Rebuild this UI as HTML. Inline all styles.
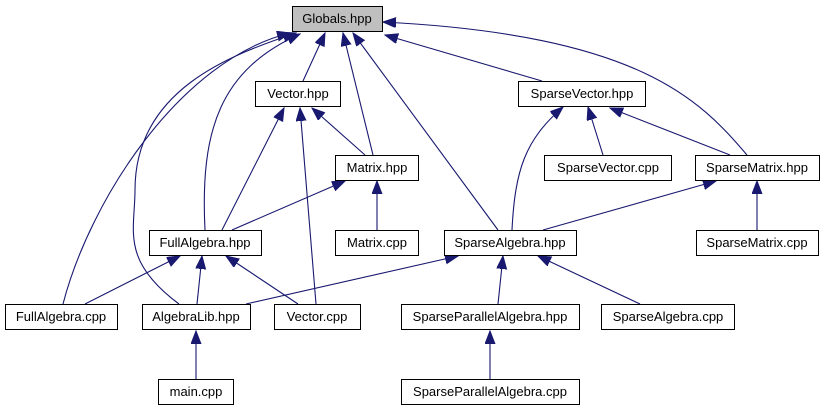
<!DOCTYPE html>
<html><head><meta charset="utf-8"><style>
html,body{margin:0;padding:0;background:#fff}
svg{display:block}
text{font-family:"Liberation Sans",sans-serif;font-size:13px;fill:#000}
</style></head><body>
<svg width="825" height="411" viewBox="0 0 825 411" xmlns="http://www.w3.org/2000/svg">
<defs>
<marker id="a" markerUnits="userSpaceOnUse" markerWidth="14" markerHeight="12" refX="13" refY="5" orient="auto">
<path d="M0,0 L13,5 L0,10 Z" fill="#191970" stroke="#191970"/>
</marker>
</defs>
<g fill="none" stroke="#191970" stroke-width="1.1" marker-end="url(#a)">
<path d="M303,81 L325,33"/>
<path d="M373,155 L343,33"/>
<path d="M498,230 L353,33"/>
<path d="M542,81 L385,35"/>
<path d="M747,155 C700,100 640,35 383,22"/>
<path d="M63,304 C90,200 180,60 290,33"/>
<path d="M179,304 C120,260 135,230 135,190 C135,90 230,55 296,33"/>
<path d="M205,230 C200,130 220,70 300,34"/>
<path d="M365,155 L312,108"/>
<path d="M222,230 L284,108"/>
<path d="M316,304 L300,108"/>
<path d="M232,230 L345,181"/>
<path d="M377,230 L377,181"/>
<path d="M512,230 C515,170 525,140 563,107"/>
<path d="M603,155 L588,107"/>
<path d="M730,155 L610,108"/>
<path d="M543,230 L716,181"/>
<path d="M757,230 L757,181"/>
<path d="M85,304 L180,256"/>
<path d="M197,304 L202,256"/>
<path d="M298,304 L226,256"/>
<path d="M246,304 L458,256"/>
<path d="M498,304 L503,256"/>
<path d="M640,304 L538,256"/>
<path d="M196,379 L196,331"/>
<path d="M490,379 L490,331"/>
</g>
<g stroke="#000" stroke-width="1">
<rect x="292.5" y="6.5" width="90" height="25" fill="#bfbfbf"/>
<g fill="#fff">
<rect x="255.5" y="81.5" width="85" height="25"/>
<rect x="335.5" y="155.5" width="83" height="25"/>
<rect x="518.5" y="81.5" width="127" height="25"/>
<rect x="544.5" y="155.5" width="127" height="25"/>
<rect x="695.5" y="155.5" width="124" height="25"/>
<rect x="149.5" y="230.5" width="112" height="25"/>
<rect x="335.5" y="230.5" width="83" height="25"/>
<rect x="444.5" y="230.5" width="132" height="25"/>
<rect x="696.5" y="230.5" width="122" height="25"/>
<rect x="5.5" y="304.5" width="112" height="25"/>
<rect x="142.5" y="304.5" width="108" height="25"/>
<rect x="274.5" y="304.5" width="86" height="25"/>
<rect x="401.5" y="304.5" width="178" height="25"/>
<rect x="601.5" y="304.5" width="133" height="25"/>
<rect x="158.5" y="379.5" width="75" height="25"/>
<rect x="401.5" y="379.5" width="178" height="25"/>
</g></g>
<g text-anchor="middle">
<text x="337" y="23">Globals.hpp</text>
<text x="298" y="98">Vector.hpp</text>
<text x="377" y="172">Matrix.hpp</text>
<text x="582" y="98">SparseVector.hpp</text>
<text x="608" y="172">SparseVector.cpp</text>
<text x="757" y="172">SparseMatrix.hpp</text>
<text x="205" y="247">FullAlgebra.hpp</text>
<text x="377" y="247">Matrix.cpp</text>
<text x="510" y="247">SparseAlgebra.hpp</text>
<text x="757" y="247">SparseMatrix.cpp</text>
<text x="61" y="321">FullAlgebra.cpp</text>
<text x="196" y="321">AlgebraLib.hpp</text>
<text x="317" y="321">Vector.cpp</text>
<text x="490" y="321">SparseParallelAlgebra.hpp</text>
<text x="668" y="321">SparseAlgebra.cpp</text>
<text x="196" y="396">main.cpp</text>
<text x="490" y="396">SparseParallelAlgebra.cpp</text>
</g>
</svg>
</body></html>
